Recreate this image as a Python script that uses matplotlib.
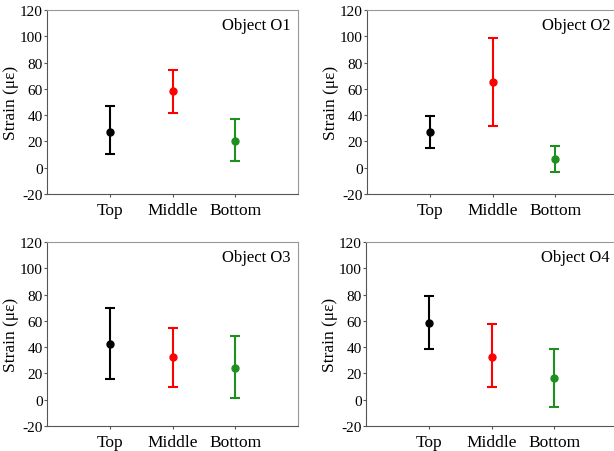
import matplotlib
matplotlib.use("Agg")
import matplotlib.pyplot as plt
import numpy as np

# ---------------- DATA ----------------
positions = ["Top", "Middle", "Bottom"]
objects = ["Object O1", "Object O2", "Object O3", "Object O4"]

# mean strain and error bar ends, per object (Top, Middle, Bottom)
mean_o1 = [27.4, 58.0, 20.3]
low_o1 = [10.4, 41.8, 5.1]
high_o1 = [46.6, 74.7, 37.2]

mean_o2 = [26.8, 65.1, 6.3]
low_o2 = [15.0, 31.4, -3.5]
high_o2 = [39.0, 98.5, 16.2]

mean_o3 = [42.5, 32.3, 24.4]
low_o3 = [16.0, 9.4, 1.5]
high_o3 = [69.7, 54.4, 48.3]

mean_o4 = [58.7, 32.8, 16.3]
low_o4 = [38.9, 9.9, -5.6]
high_o4 = [78.6, 57.7, 38.4]

colors = ["black", "#ff0000", "#1f8f1f"]

plt.rcParams["font.family"] = ["Liberation Serif", "DejaVu Serif"]
plt.rcParams["axes.unicode_minus"] = False

W, H = 614, 452
fig = plt.figure(figsize=(W / 100, H / 100), dpi=100)

# axes boxes in pixels: left, top, width (right-hand panels run off the edge)
boxes = [(47, 11, 251), (367, 11, 256), (47, 243, 251), (366, 243, 256)]
ax_h = 184
unit_px = 251 / 4.0

data = [(mean_o1, low_o1, high_o1), (mean_o2, low_o2, high_o2),
        (mean_o3, low_o3, high_o3), (mean_o4, low_o4, high_o4)]

x = np.arange(1, len(positions) + 1)

for (left, top, ax_w), name, (m, lo, hi) in zip(boxes, objects, data):
    ax = fig.add_axes([left / W, (H - top - ax_h) / H, ax_w / W, ax_h / H])
    for i in range(len(positions)):
        err = [[m[i] - lo[i]], [hi[i] - m[i]]]
        ax.errorbar(x[i], m[i], yerr=err, fmt="o", color=colors[i],
                    ms=5, elinewidth=1.5, capsize=3.5, capthick=1.5)
    ax.set_xlim(0, ax_w / unit_px)
    ax.set_ylim(-20, 120)
    ax.set_yticks(np.arange(-20, 121, 20))
    ax.set_xticks(x)
    ax.set_xticklabels(positions, fontsize=12.5)
    ax.tick_params(axis="y", labelsize=11, length=2.5, pad=0.5, color="#555555")
    ax.tick_params(axis="x", length=2, pad=4, color="#555555")
    ax.set_ylabel("Strain (\u03bc\u03b5)", fontsize=12.5, labelpad=1)
    for side in ["top", "right"]:
        ax.spines[side].set_color("#999999")
    for side in ["left", "bottom"]:
        ax.spines[side].set_color("#555555")
    # label sits 8 px inside the 251 px-wide frame
    ax.annotate(name, xy=(251 / ax_w, 1), xycoords="axes fraction",
                xytext=(-7, -15), textcoords="offset pixels",
                ha="right", va="center", fontsize=12)

fig.savefig("out.png", dpi=100)
